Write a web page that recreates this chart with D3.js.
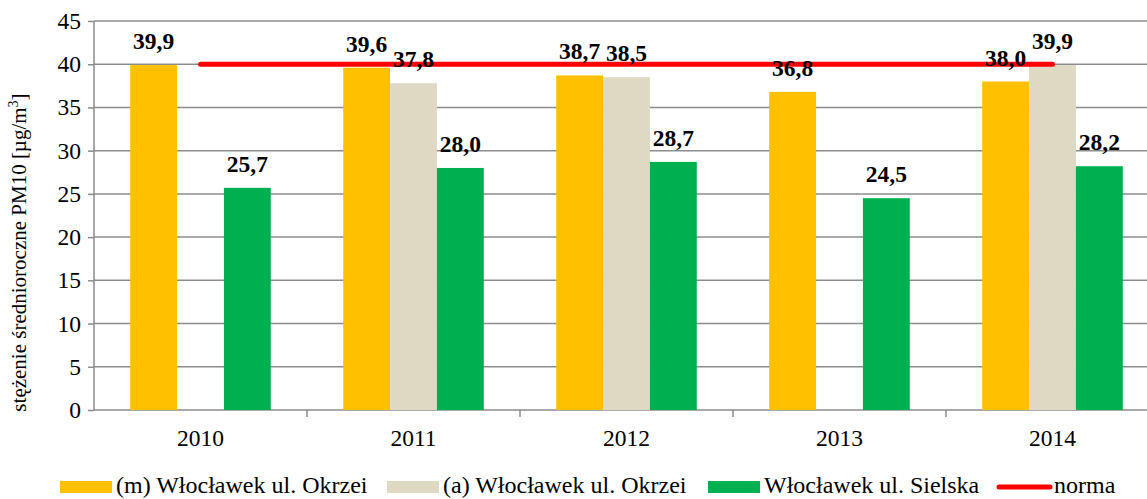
<!DOCTYPE html>
<meta charset="utf-8">
<title>PM10 Włocławek</title>
<style>
body { margin: 0; background: #fff; }
text { font-family: "Liberation Serif", "DejaVu Serif", serif; fill: #000; }
.grid line { stroke: #8c8c8c; stroke-width: 1.5px; }
.axis path, .axis line { stroke: #8c8c8c; stroke-width: 1.5px; }
.axis text { font-size: 23.5px; font-family: "Liberation Serif", "DejaVu Serif", serif; }
.val { font-size: 23.5px; font-weight: bold; text-anchor: middle; }
.legend text { font-size: 24px; }
</style>
<svg id="chart" width="1147" height="499"></svg>
<script src="https://cdn.jsdelivr.net/npm/d3@7"></script>
<script>
const years = ["2010", "2011", "2012", "2013", "2014"];
const seriesNames = ["(m) Włocławek ul. Okrzei", "(a) Włocławek ul. Okrzei", "Włocławek ul. Sielska"];
const okrzeiM = [39.9, 39.6, 38.7, 36.8, 38.0];
const okrzeiA = [null, 37.8, 38.5, null, 39.9];
const sielska = [25.7, 28.0, 28.7, 24.5, 28.2];
const norma = [40, 40, 40, 40, 40];
const colors = ["#FFC000", "#DDD9C3", "#00B050"];
const yTicks = [0, 5, 10, 15, 20, 25, 30, 35, 40, 45];

const series = [okrzeiM, okrzeiA, sielska];
const svg = d3.select("#chart");
const mLeft = 94, mRight = 1159, mTop = 21, mBottom = 410;

const x = d3.scaleBand().domain(years).range([mLeft, mRight]).paddingInner(0.34).paddingOuter(0.17);
const xs = d3.scaleBand().domain(d3.range(3)).range([0, x.bandwidth()]);
const y = d3.scaleLinear().domain([0, 45]).range([mBottom, mTop]);

// grid
svg.append("g").attr("class", "grid")
  .selectAll("line").data(yTicks.filter(t => t > 0)).enter().append("line")
  .attr("x1", mLeft).attr("x2", 1147)
  .attr("y1", d => y(d)).attr("y2", d => y(d));

// y axis
const ya = svg.append("g").attr("class", "axis")
  .attr("transform", "translate(" + mLeft + ",0)")
  .call(d3.axisLeft(y).tickValues(yTicks).tickSize(6).tickPadding(7));
ya.attr("font-family", null).attr("font-size", null);
ya.select(".domain").attr("d", "M0," + y(45) + "V" + y(0));

// x axis with separators between categories
const xa = svg.append("g").attr("class", "axis")
  .attr("transform", "translate(0," + mBottom + ")");
xa.append("line").attr("x1", mLeft).attr("x2", 1147).attr("y1", 0).attr("y2", 0);
const step = x.step();
xa.selectAll("line.sep").data(years).enter().append("line")
  .attr("class", "sep")
  .attr("x1", (d, i) => mLeft + step * (i + 1)).attr("x2", (d, i) => mLeft + step * (i + 1))
  .attr("y1", 0).attr("y2", 7);
xa.selectAll("text").data(years).enter().append("text")
  .attr("x", d => x(d) + x.bandwidth() / 2)
  .attr("y", 36)
  .attr("text-anchor", "middle")
  .text(d => d);

// y title
const yt = svg.append("text")
  .attr("transform", "translate(26," + ((mTop + mBottom) / 2 + 37) + ") rotate(-90)")
  .attr("text-anchor", "middle")
  .style("font-size", "21px");
yt.append("tspan").text("stężenie średnioroczne PM10 [µg/m");
yt.append("tspan").attr("dy", -8).style("font-size", "14px").text("3");
yt.append("tspan").attr("dy", 8).text("]");

// bars
series.forEach((vals, si) => {
  const g = svg.append("g");
  years.forEach((yr, i) => {
    const v = vals[i];
    if (v == null) return;
    g.append("rect")
      .attr("x", x(yr) + xs(si))
      .attr("width", xs.bandwidth())
      .attr("y", y(v))
      .attr("height", y(0) - y(v))
      .attr("fill", colors[si]);
  });
});

// norma line
svg.append("path")
  .datum(norma)
  .attr("fill", "none")
  .attr("stroke", "#FF0000")
  .attr("stroke-width", 5)
  .attr("stroke-linecap", "round")
  .attr("d", d3.line().x((d, i) => x(years[i]) + x.bandwidth() / 2).y(d => y(d)));

// value labels
series.forEach((vals, si) => {
  years.forEach((yr, i) => {
    const v = vals[i];
    if (v == null) return;
    svg.append("text").attr("class", "val")
      .attr("x", x(yr) + xs(si) + xs.bandwidth() / 2)
      .attr("y", y(v) - 16)
      .text(v.toFixed(1).replace(".", ","));
  });
});

// legend
const legend = svg.append("g").attr("class", "legend");
const legX = [60, 387, 708];
seriesNames.forEach((n, i) => {
  legend.append("rect").attr("x", legX[i]).attr("y", 481).attr("width", 52).attr("height", 12).attr("fill", colors[i]);
  legend.append("text").attr("x", legX[i] + 56).attr("y", 493).text(n);
});
legend.append("line").attr("x1", 999).attr("x2", 1050).attr("y1", 487).attr("y2", 487)
  .attr("stroke", "#FF0000").attr("stroke-width", 5).attr("stroke-linecap", "round");
legend.append("text").attr("x", 1054).attr("y", 493).text("norma");
</script>
